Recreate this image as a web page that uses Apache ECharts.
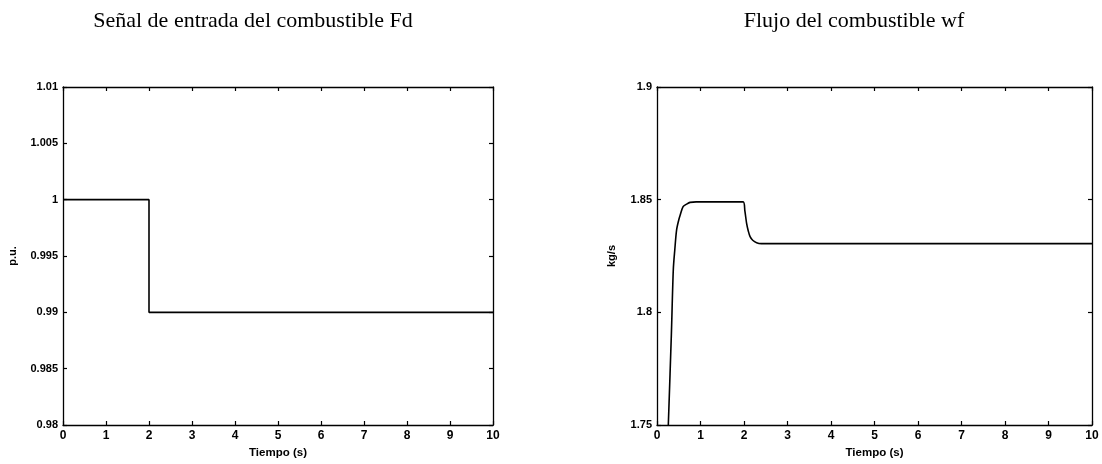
<!DOCTYPE html>
<html>
<head>
<meta charset="utf-8">
<script src="https://cdn.jsdelivr.net/npm/echarts@6/dist/echarts.min.js"></script>
<style>
  html, body { margin: 0; padding: 0; background: #fff; }
  #chart { width: 1102px; height: 464px; }
</style>
</head>
<body>
<div id="chart"></div>
<script>
// Fuel demand signal Fd (p.u.) against time (s)
const fdTime   = [0, 2, 2, 10];
const fdValues = [1.0, 1.0, 0.99, 0.99];

// Fuel flow wf (kg/s) against time (s)
const wfTime   = [0.26, 0.33, 0.375, 0.41, 0.45, 0.5, 0.53, 0.6, 0.68, 0.76, 0.9, 1.2, 1.98, 2.02, 2.06, 2.1, 2.14, 2.2, 2.29, 2.4, 3, 5, 7, 10];
const wfValues = [1.75, 1.79, 1.819, 1.828, 1.8365, 1.841, 1.843, 1.8469, 1.848, 1.8488, 1.849, 1.849, 1.849, 1.845, 1.8395, 1.836, 1.8336, 1.832, 1.8309, 1.8305, 1.8305, 1.8305, 1.8305, 1.8305];

const timeTicks = [0, 1, 2, 3, 4, 5, 6, 7, 8, 9, 10];
const fdTicks = ['0.98', '0.985', '0.99', '0.995', '1', '1.005', '1.01'];
const wfTicks = ['1.75', '1.8', '1.85', '1.9'];

const pair = (xs, ys) => xs.map((x, i) => [x, ys[i]]);

const labelFont = { fontFamily: 'Liberation Sans', fontWeight: 'bold', color: '#000' };
const frameLine = { show: true, onZero: false, lineStyle: { color: '#000', width: 1.3 } };
const innerTick = { show: true, inside: true, length: 4, lineStyle: { color: '#000', width: 1.2 } };

function xAxes(gridIndex) {
  return [
    {
      type: 'value', gridIndex, position: 'bottom', min: 0, max: 10, interval: 1,
      axisLine: frameLine, axisTick: innerTick, splitLine: { show: false },
      axisLabel: Object.assign({ margin: 5, fontSize: 12, formatter: v => timeTicks.includes(v) ? String(v) : '' }, labelFont),
      name: 'Tiempo (s)', nameLocation: 'middle', nameGap: 18,
      nameTextStyle: Object.assign({ fontSize: 11.5 }, labelFont)
    },
    {
      type: 'value', gridIndex, position: 'top', min: 0, max: 10, interval: 1,
      axisLine: frameLine, axisTick: innerTick, splitLine: { show: false },
      axisLabel: { show: false }
    }
  ];
}

function yAxes(gridIndex, min, max, interval, labels, name, gap) {
  const fmt = v => {
    const hit = labels.find(l => Math.abs(parseFloat(l) - v) < interval / 100);
    return hit || '';
  };
  return [
    {
      type: 'value', gridIndex, position: 'left', min, max, interval,
      axisLine: frameLine, axisTick: innerTick, splitLine: { show: false },
      axisLabel: Object.assign({ margin: 5, fontSize: 11, formatter: fmt }, labelFont),
      name, nameLocation: 'middle', nameGap: gap,
      nameTextStyle: Object.assign({ fontSize: 11 }, labelFont)
    },
    {
      type: 'value', gridIndex, position: 'right', min, max, interval,
      axisLine: frameLine, axisTick: innerTick, splitLine: { show: false },
      axisLabel: { show: false }
    }
  ];
}

const chart = echarts.init(document.getElementById('chart'), null, { renderer: 'canvas' });

const titleStyle = { fontFamily: 'Liberation Serif', fontWeight: 'normal', fontSize: 22, color: '#000' };

chart.setOption({
  backgroundColor: '#fff',
  animation: false,
  title: [
    { text: 'Señal de entrada del combustible Fd', left: 248, top: 5, textAlign: 'center', textStyle: titleStyle },
    { text: 'Flujo del combustible wf', left: 849, top: 5, textAlign: 'center', textStyle: titleStyle }
  ],
  grid: [
    { left: 63, top: 87, width: 430, height: 338 },
    { left: 657, top: 87, width: 435, height: 338 }
  ],
  xAxis: [...xAxes(0), ...xAxes(1)],
  yAxis: [
    ...yAxes(0, 0.98, 1.01, 0.005, fdTicks, 'p.u.', 45),
    ...yAxes(1, 1.75, 1.9, 0.05, wfTicks, 'kg/s', 40)
  ],
  series: [
    {
      type: 'line', xAxisIndex: 0, yAxisIndex: 0, data: pair(fdTime, fdValues),
      showSymbol: false, lineStyle: { color: '#000', width: 1.6 }
    },
    {
      type: 'line', xAxisIndex: 2, yAxisIndex: 2, data: pair(wfTime, wfValues),
      showSymbol: false, smooth: 0.3, lineStyle: { color: '#000', width: 1.6 }
    }
  ]
});
</script>
</body>
</html>
